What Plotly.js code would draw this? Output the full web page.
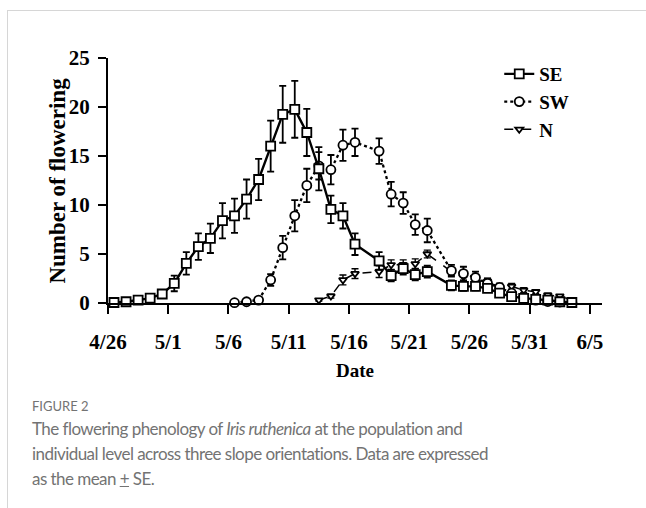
<!DOCTYPE html>
<html><head><meta charset="utf-8">
<script src="https://cdn.plot.ly/plotly-3.0.1.min.js"></script>
<style>
html,body{margin:0;padding:0;background:#fff;width:646px;height:508px;overflow:hidden;}
#card{position:absolute;left:7px;top:10px;width:700px;height:600px;border-left:1px solid #d6d6d6;border-top:1px solid #d6d6d6;}
#chart{position:absolute;left:0;top:0;width:646px;height:508px;}
#cap{position:absolute;left:32px;top:397px;font-family:Lato,"Open Sans",sans-serif;color:#737373;}
#cap .fig{font-size:13px;color:#737373;line-height:18px;}
#cap .txt{font-size:17px;letter-spacing:-0.55px;line-height:25px;margin-top:1px;}
</style></head>
<body>
<div id="card"></div>
<div id="chart"></div>
<div id="cap"><div class="fig">FIGURE 2</div><div class="txt">The flowering phenology of <i>Iris ruthenica</i> at the population and<br>individual level across three slope orientations. Data are expressed<br>as the mean <u>+</u> SE.</div></div>
<script>
const YEAR = 2021;
function iso(md){const p=md.split('/');return YEAR+'-'+p[0].padStart(2,'0')+'-'+p[1].padStart(2,'0');}

// SE (south-east slope)
const seDates = ['4/26','4/27','4/28','4/29','4/30','5/1','5/2','5/3','5/4','5/5','5/6','5/7','5/8','5/9','5/10','5/11','5/12','5/13','5/14','5/15','5/16','5/18','5/19','5/20','5/21','5/22','5/24','5/25','5/26','5/27','5/28','5/29','5/30','5/31','6/1','6/2','6/3'];
const seMean = [0.05,0.13,0.3,0.5,0.92,2.0,4.05,5.75,6.6,8.4,8.9,10.6,12.6,16.0,19.25,19.76,17.4,13.7,9.56,8.9,6.0,4.3,2.8,3.5,2.9,3.2,1.8,1.7,1.7,1.5,1.0,0.65,0.48,0.37,0.3,0.13,0.05];
const seSE = [0.05,0.1,0.1,0.15,0.3,0.8,1.15,1.35,1.5,1.8,1.75,2.0,2.1,2.6,2.9,2.9,2.4,2.2,1.4,1.3,1.1,0.9,0.6,0.6,0.6,0.6,0.5,0.45,0.4,0.35,0.3,0.3,0.25,0.2,0.2,0.1,0.1];

// SW (south-west slope)
const swDates = ['5/6','5/7','5/8','5/9','5/10','5/11','5/12','5/13','5/14','5/15','5/16','5/18','5/19','5/20','5/21','5/22','5/24','5/25','5/26','5/27','5/28','5/29','5/30','5/31','6/1','6/2','6/3'];
const swMean = [0.03,0.13,0.3,2.35,5.65,8.9,12.0,14.0,13.6,16.1,16.4,15.5,11.1,10.2,8.0,7.4,3.3,3.0,2.6,2.0,1.6,1.0,0.6,0.3,0.15,0.1,0.05];
const swSE = [0.05,0.1,0.15,0.6,1.2,1.6,1.7,1.4,1.5,1.6,1.4,1.3,1.25,1.1,1.05,1.2,0.6,0.7,0.6,0.5,0.4,0.3,0.25,0.2,0.15,0.1,0.1];

// N (north slope)
const nDates = ['5/13','5/14','5/15','5/16','5/18','5/19','5/20','5/21','5/22','5/24','5/25','5/26','5/27','5/28','5/29','5/30','5/31','6/1','6/2','6/3'];
const nMean = [0.3,0.7,2.35,3.0,3.2,3.9,3.9,4.0,5.0,3.2,2.7,2.3,2.2,1.6,1.7,1.3,1.15,0.8,0.7,0.3];
const nSE = [0.1,0.2,0.5,0.5,0.6,0.5,0.5,0.5,0.4,0.4,0.4,0.4,0.3,0.3,0.3,0.25,0.2,0.2,0.15,0.1];

const seriesNames = ['SE','SW','N'];
const axisStart = '4/26', axisEnd = '6/6';
const yTitle = 'Number of flowering';
const xTitle = 'Date';

const DAY = 86400000;
const serif = 'Liberation Serif, Times New Roman, serif';
function tr(name, dates, mean, err, sym, msize, dash, lw, rank, ethick){
  return {
    type:'scatter', mode:'lines+markers', name:name, legendgroup:name, legendrank:rank,
    x:dates.map(iso), y:mean, xperiod:DAY, xperiodalignment:'middle',
    line:{color:'#000', width:lw, dash:dash},
    marker:{symbol:sym, size:msize, color:'#fff', line:{color:'#000', width:1.8}},
    error_y:{type:'data', array:err, visible:true, color:'#000', thickness:ethick, width:3.5},
    cliponaxis:false, hoverinfo:'skip'
  };
}
const data = [
  tr(seriesNames[2], nDates, nMean, nSE, 'triangle-down', 7, 'dash', 1.5, 3, 1.4),
  tr(seriesNames[1], swDates, swMean, swSE, 'circle', 9, 'dot', 2.3, 2, 1.8),
  tr(seriesNames[0], seDates, seMean, seSE, 'square', 9, 'solid', 2.4, 1, 1.8)
];
const layout = {
  width:646, height:508,
  margin:{l:108, r:44, t:58, b:205},
  paper_bgcolor:'rgba(0,0,0,0)', plot_bgcolor:'rgba(0,0,0,0)',
  showlegend:true,
  legend:{x:0.792, y:1.012, xanchor:'left', yanchor:'top', bgcolor:'rgba(0,0,0,0)',
    font:{family:serif, size:19, color:'#000', weight:700}, tracegroupgap:8, traceorder:'normal'},
  xaxis:{type:'date', range:[iso(axisStart), iso(axisEnd)], tick0:iso(axisStart), dtick:5*DAY,
    tickformat:'%-m/%-d', ticks:'outside', ticklen:9, tickwidth:2, tickcolor:'#000', ticklabelstandoff:10,
    showline:true, linewidth:2, linecolor:'#000', showgrid:false, zeroline:false,
    tickfont:{family:serif, size:21, color:'#000', weight:700},
    title:{text:xTitle, font:{family:serif, size:19, color:'#000', weight:700}, standoff:10}},
  yaxis:{range:[0,25], dtick:5, ticks:'outside', ticklen:8, tickwidth:2, tickcolor:'#000', ticklabelstandoff:4,
    showline:true, linewidth:2, linecolor:'#000', showgrid:false, zeroline:false,
    tickfont:{family:serif, size:21, color:'#000', weight:700}},
  annotations:[{text:yTitle, xref:'paper', yref:'paper', x:-0.103, y:0.5, xanchor:'center', yanchor:'middle',
    textangle:-90, showarrow:false, font:{family:serif, size:23, color:'#000', weight:700}}]
};
Plotly.newPlot('chart', data, layout, {displayModeBar:false, staticPlot:true});
</script>
</body></html>
